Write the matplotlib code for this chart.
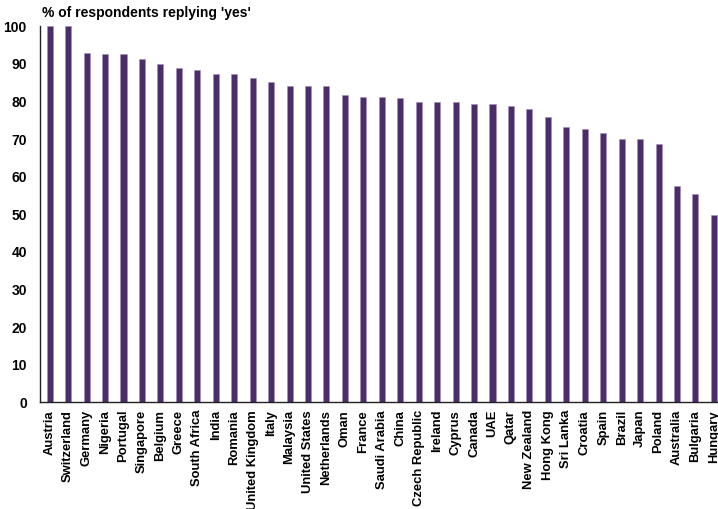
import numpy as np
import matplotlib
matplotlib.use("Agg")
import matplotlib.pyplot as plt

plt.rcParams['font.family'] = ['Liberation Sans', 'DejaVu Sans']

countries = ['Austria', 'Switzerland', 'Germany', 'Nigeria', 'Portugal', 'Singapore',
             'Belgium', 'Greece', 'South Africa', 'India', 'Romania', 'United Kingdom',
             'Italy', 'Malaysia', 'United States', 'Netherlands', 'Oman', 'France',
             'Saudi Arabia', 'China', 'Czech Republic', 'Ireland', 'Cyprus', 'Canada',
             'UAE', 'Qatar', 'New Zealand', 'Hong Kong', 'Sri Lanka', 'Croatia', 'Spain',
             'Brazil', 'Japan', 'Poland', 'Australia', 'Bulgaria', 'Hungary']
yes_pct = [100.0, 100.0, 93.0, 92.7, 92.7, 91.2,
           89.9, 88.8, 88.4, 87.4, 87.4, 86.3,
           85.1, 84.1, 84.0, 84.0, 81.6, 81.1,
           81.1, 81.0, 79.9, 79.9, 79.9, 79.4,
           79.4, 78.8, 78.1, 75.9, 73.2, 72.6, 71.6,
           69.9, 69.9, 68.6, 57.4, 55.4, 49.9]
yticks = [0, 10, 20, 30, 40, 50, 60, 70, 80, 90, 100]

W, H = 718, 509
fig = plt.figure(figsize=(W / 100, H / 100), dpi=100)

# bar slots are ~18.45 px wide; axes run a little past the right edge
x = np.arange(len(countries))
slot = 18.45
x0 = -0.526
x1 = len(countries) - 0.5
ax = fig.add_axes([40 / W, 1 - 402.3 / H, (x1 - x0) * slot / W, (402.3 - 26.3) / H])

ax.bar(x, yes_pct, width=0.33, color='#4B2D69', edgecolor='#a58fc0', linewidth=0.4)

ax.set_xlim(x0, x1)
ax.set_ylim(0, 100)
ax.set_yticks(yticks)
ax.set_yticklabels([str(t) for t in yticks], fontsize=10, fontweight='bold')
ax.set_xticks(x)
ax.set_xticklabels(countries, rotation=90, fontsize=9.4, fontweight='bold', va='top')
ax.tick_params(axis='y', length=0, pad=9.5)
ax.tick_params(axis='x', length=0, pad=5.5)

for side in ['top', 'right']:
    ax.spines[side].set_visible(False)
for side in ['left', 'bottom']:
    ax.spines[side].set_linewidth(1.0)
    ax.spines[side].set_color('#222222')

fig.text(42 / W, 1 - 13 / H, "% of respondents replying 'yes'", fontsize=10,
         fontweight='bold', ha='left', va='center')

fig.savefig('out.png', dpi=100)
